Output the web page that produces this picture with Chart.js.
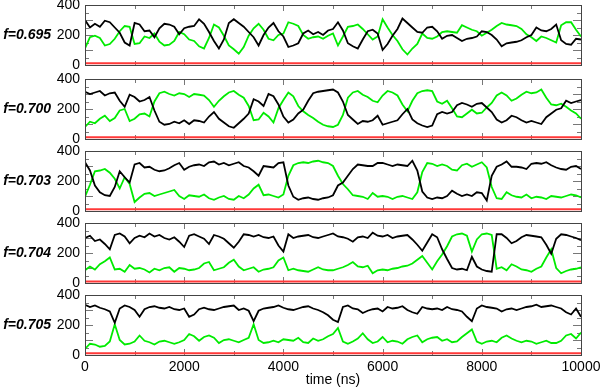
<!DOCTYPE html>
<html>
<head>
<meta charset="utf-8">
<script src="https://cdn.jsdelivr.net/npm/chart.js@4.4.1/dist/chart.umd.min.js"></script>
<style>
  html, body { margin: 0; padding: 0; background: #fff; }
  #wrap { position: relative; width: 602px; height: 391px; overflow: hidden; }
  #wrap canvas { position: absolute; left: 0; }
  .flabel { position: absolute; left: 0; width: 51px; text-align: right; line-height: 16px;
            font: italic bold 14px "Liberation Sans", Arial, sans-serif; color: #000; }
</style>
</head>
<body>
<div id="wrap"></div>
<script>
// time axis (ns), one sample every 100 ns
const times = [
  0, 100, 200, 300, 400, 500, 600, 700, 800, 900,
  1000, 1100, 1200, 1300, 1400, 1500, 1600, 1700, 1800, 1900,
  2000, 2100, 2200, 2300, 2400, 2500, 2600, 2700, 2800, 2900,
  3000, 3100, 3200, 3300, 3400, 3500, 3600, 3700, 3800, 3900,
  4000, 4100, 4200, 4300, 4400, 4500, 4600, 4700, 4800, 4900,
  5000, 5100, 5200, 5300, 5400, 5500, 5600, 5700, 5800, 5900,
  6000, 6100, 6200, 6300, 6400, 6500, 6600, 6700, 6800, 6900,
  7000, 7100, 7200, 7300, 7400, 7500, 7600, 7700, 7800, 7900,
  8000, 8100, 8200, 8300, 8400, 8500, 8600, 8700, 8800, 8900,
  9000, 9100, 9200, 9300, 9400, 9500, 9600, 9700, 9800, 9900,
  10000
];

const fLabels = ['f=0.695', 'f=0.700', 'f=0.703', 'f=0.704', 'f=0.705'];

const black695 = [
  300, 250, 275, 255, 295, 285, 250, 215, 150, 130,
  280, 270, 225, 230, 185, 245, 275, 270, 255, 205,
  245, 255, 260, 305, 275, 220, 160, 110, 170, 280,
  305, 280, 255, 220, 185, 130, 200, 250, 280, 225,
  190, 120, 130, 145, 210, 230, 205, 220, 200, 230,
  240, 285, 230, 145, 125, 110, 170, 225, 235, 210,
  100, 140, 195, 240, 310, 280, 250, 220, 215, 250,
  255, 225, 175, 195, 200, 180, 160, 175, 180, 190,
  225, 220, 200, 170, 125, 145, 150, 155, 165, 185,
  200, 250, 230, 225, 240, 270, 165, 140, 135, 175,
  170
];
const green695 = [
  110, 185, 195, 180, 130, 140, 175, 225, 260, 255,
  140, 145, 190, 180, 210, 155, 130, 135, 160, 220,
  205, 170, 160, 125, 110, 180, 270, 250, 195, 130,
  105, 75, 120, 195, 245, 275, 235, 175, 165, 200,
  210, 285, 275, 260, 200, 175, 185, 190, 175, 195,
  210, 130, 190, 255, 260, 270, 240, 205, 170, 190,
  305, 250, 200, 160, 105, 70, 110, 140, 210, 180,
  175, 190, 220, 225, 220, 215, 265, 250, 235, 225,
  195, 215, 235, 260, 280, 270, 265, 260, 240, 205,
  185, 160, 190, 180, 165, 150, 265, 285, 285, 235,
  190
];

const black700 = [
  315, 300, 310, 320, 290, 305, 310, 255, 215, 295,
  280, 250, 260, 280, 190, 115, 95, 100, 115, 105,
  125, 100, 125, 120, 110, 150, 180, 135, 110, 85,
  75, 105, 135, 170, 265, 250, 220, 300, 285, 230,
  150, 110, 130, 170, 195, 255, 305, 315, 320, 325,
  330, 310, 250, 160, 130, 100, 120, 115, 125, 155,
  95, 105, 115, 125, 165, 200, 130, 105, 90, 80,
  90, 165, 180, 170, 180, 225, 240, 230, 215, 235,
  240, 210, 180, 130, 110, 125, 155, 145, 125, 110,
  120, 110, 100, 145, 170, 195, 205, 255, 240, 250,
  260
];
const green700 = [
  80, 115, 105, 135, 155, 120, 140, 190, 200, 120,
  135, 165, 170, 150, 250, 305, 315, 300, 290, 305,
  300, 280, 300, 295, 290, 260, 215, 255, 285, 310,
  320, 295, 275, 220, 125, 130, 175, 150, 110, 205,
  260, 310, 285, 220, 185, 160, 140, 115, 95, 85,
  80, 95, 160, 275, 310, 320, 295, 280, 255, 245,
  290, 320, 310, 290, 230, 185, 255, 305, 320, 325,
  320, 250, 235, 255, 205, 150, 145, 170, 195, 170,
  175, 210, 240, 290, 310, 290, 255, 270, 295, 315,
  305, 310, 330, 275, 230, 225, 235, 215, 190, 170,
  135
];

const black703 = [
  325, 270, 170, 125, 105, 100, 160, 265, 225, 190,
  310, 320, 290, 295, 275, 265, 270, 285, 305, 320,
  275, 295, 305, 310, 300, 325, 330, 310, 320, 305,
  315, 325, 300, 290, 265, 235, 300, 295, 290, 320,
  325, 170, 95, 75, 85, 90, 80, 75, 85, 90,
  105, 170, 190, 235, 280, 310, 305, 300, 300, 320,
  320, 310, 300, 310, 305, 300, 335, 270, 130, 90,
  80, 90, 85, 100, 135, 115, 100, 110, 100, 125,
  120, 70, 235, 295, 310, 330, 295, 295, 290, 280,
  315, 320, 315, 325, 305, 290, 280, 275, 295, 300,
  280
];
const green703 = [
  95, 175, 265, 270, 280, 255, 215, 150, 225, 180,
  60, 90, 115, 120, 100, 110, 120, 130, 140, 100,
  80, 105, 100, 95, 110, 85, 75, 90, 100, 80,
  75, 100, 85, 110, 150, 175, 105, 110, 100, 90,
  110, 235, 305, 320, 325, 320, 330, 335, 325, 320,
  300, 235, 180, 145, 105, 100, 95, 80, 120, 95,
  100, 95, 80, 95, 100, 90, 80, 125, 260, 320,
  315, 300, 310, 300, 275, 270, 305, 315, 295, 310,
  325, 290, 160, 85, 80, 125, 105, 95, 90, 110,
  85, 95, 90, 80, 100, 95, 90, 100, 110, 105,
  90
];

const black704 = [
  300, 315, 280, 290, 260, 225, 320, 330, 310, 265,
  300, 315, 305, 330, 310, 320, 300, 290, 305, 275,
  240, 315, 325, 310, 295, 260, 320, 310, 295, 265,
  235, 275, 325, 320, 310, 320, 305, 300, 310, 250,
  210, 325, 300, 310, 315, 320, 305, 300, 310, 320,
  330, 310, 305, 295, 275, 305, 310, 300, 335, 315,
  310, 320, 300, 310, 315, 320, 290, 255, 215, 270,
  325, 305, 225, 160, 100, 90, 95, 85, 175, 110,
  90, 80, 75, 325, 325, 300, 265, 280, 305, 320,
  315, 310, 305, 255, 195, 295, 325, 320, 310, 300,
  285
];
const green704 = [
  85, 110, 90, 125, 145, 170, 90, 95, 75, 120,
  95, 100, 90, 70, 95, 85, 100, 105, 75, 100,
  95, 85, 90, 100, 130, 140, 85, 95, 105, 135,
  155, 110, 85, 95, 105, 75, 90, 95, 105, 150,
  170, 85, 95, 85, 80, 75, 90, 105, 90, 85,
  85, 95, 105, 120, 140, 110, 105, 115, 65, 85,
  90, 85, 95, 100, 110, 115, 130, 155, 180, 135,
  90, 145, 190, 245, 310, 325, 330, 315, 210, 290,
  325, 330, 320, 95, 105, 85, 125, 110, 90, 85,
  75, 95, 110, 170, 225, 100, 65, 80, 90, 95,
  105
];

const black705 = [
  335, 320, 330, 315, 305, 290, 215, 310, 330, 320,
  300, 255, 305, 320, 325, 315, 310, 320, 305, 300,
  310, 255, 270, 305, 315, 305, 300, 310, 320, 325,
  330, 300, 310, 295, 225, 295, 310, 315, 320, 330,
  315, 305, 300, 310, 320, 325, 310, 300, 285, 265,
  235, 220, 320, 330, 310, 305, 280, 295, 305, 310,
  290, 320, 310, 315, 325, 300, 285, 275, 320, 310,
  305, 310, 300, 320, 305, 300, 290, 255, 225, 310,
  330, 320, 315, 310, 290, 305, 310, 300, 310, 320,
  325, 335, 320, 325, 330, 320, 310, 285, 270, 310,
  255
];
const green705 = [
  40, 75, 70, 55, 60, 90, 205, 100, 70, 75,
  90, 130, 95, 85, 70, 90, 95, 85, 75, 85,
  100, 140, 125, 95, 120, 130, 115, 80, 100, 105,
  95, 85, 100, 115, 205, 100, 80, 85, 95, 85,
  105, 100, 95, 115, 85, 80, 110, 95, 105, 125,
  140, 180, 90, 75, 90, 110, 145, 105, 80, 90,
  120, 85, 95, 90, 75, 105, 120, 130, 85, 105,
  115, 120, 95, 105, 85, 90, 120, 145, 170, 90,
  75, 90, 95, 85, 115, 130, 110, 95, 85, 95,
  90, 75, 85, 95, 80, 80, 95, 130, 140, 110,
  150
];

// the flat red trace near the bottom of each panel
const redLevel = [12, 12, 12, 10, 12];

const blackSeries = [black695, black700, black703, black704, black705];
const greenSeries = [green695, green700, green703, green704, green705];

// layout of the five stacked panels (pixels)
const panelTops = [5, 79, 151, 223, 295];
const panelH = 60;
const pad = 16;
const axisH = 36;
const canvasW = 606;

Chart.defaults.font.family = '"Liberation Sans", Arial, Helvetica, sans-serif';
Chart.defaults.font.size = 14;
Chart.defaults.color = '#000';

const toXY = vals => vals.map((v, i) => ({ x: times[i], y: v }));

// frame + tick marks pointing into the plot, like the original
const innerTicks = {
  id: 'innerTicks',
  beforeDatasetsDraw(chart) {
    const { ctx, chartArea: a, scales: { x, y } } = chart;
    const L = Math.round(a.left), R = Math.round(a.right);
    const T = Math.round(a.top), B = Math.round(a.bottom);
    ctx.save();
    ctx.strokeStyle = '#777';
    ctx.lineWidth = 1;
    ctx.beginPath();
    for (let t = 1000; t < 10000; t += 1000) {
      const px = Math.round(x.getPixelForValue(t)) + 0.5;
      const len = t % 2000 === 0 ? 6 : 4;
      ctx.moveTo(px, T); ctx.lineTo(px, T + len);
      ctx.moveTo(px, B); ctx.lineTo(px, B - len);
    }
    for (let v = 50; v < 400; v += 50) {
      const py = Math.round(y.getPixelForValue(v)) + 0.5;
      const len = v % 100 === 0 ? 8 : 4;
      ctx.moveTo(L, py); ctx.lineTo(L + len, py);
      ctx.moveTo(R, py); ctx.lineTo(R - len, py);
    }
    ctx.stroke();
    ctx.restore();
  },
  afterDatasetsDraw(chart) {
    const { ctx, chartArea: a } = chart;
    const L = Math.round(a.left), R = Math.round(a.right);
    const T = Math.round(a.top), B = Math.round(a.bottom);
    ctx.save();
    ctx.strokeStyle = '#444';
    ctx.lineWidth = 1;
    ctx.strokeRect(L + 0.5, T + 0.5, R - L, B - T);
    ctx.restore();
  }
};

const wrap = document.getElementById('wrap');

blackSeries.forEach((blk, i) => {
  const last = i === blackSeries.length - 1;
  const h = pad + panelH + (last ? axisH : pad);
  const canvas = document.createElement('canvas');
  canvas.width = canvasW;
  canvas.height = h;
  canvas.style.width = canvasW + 'px';
  canvas.style.height = h + 'px';
  canvas.style.top = (panelTops[i] - pad) + 'px';
  wrap.appendChild(canvas);

  const lbl = document.createElement('div');
  lbl.className = 'flabel';
  lbl.textContent = fLabels[i];
  lbl.style.top = (panelTops[i] + 21) + 'px';
  wrap.appendChild(lbl);

  new Chart(canvas, {
    type: 'line',
    data: {
      datasets: [
        { data: toXY(blk), borderColor: '#000', borderWidth: 1.8 },
        { data: toXY(greenSeries[i]), borderColor: 'rgb(0,235,0)', borderWidth: 1.8 },
        { data: [{ x: times[0], y: redLevel[i] }, { x: times[times.length - 1], y: redLevel[i] }],
          borderColor: '#ff3838', borderWidth: 2 }
      ]
    },
    options: {
      responsive: false,
      animation: false,
      devicePixelRatio: 1,
      layout: { padding: { left: 0, right: canvasW - 581, top: pad, bottom: last ? 0 : pad } },
      plugins: { legend: { display: false }, tooltip: { enabled: false } },
      elements: { point: { radius: 0 }, line: { tension: 0 } },
      scales: {
        x: {
          type: 'linear', min: 0, max: 10000, display: last,
          grid: { display: false, drawTicks: false },
          border: { display: false },
          ticks: { stepSize: 2000, padding: 4, maxRotation: 0, callback: v => String(v) },
          title: { display: true, text: 'time (ns)', padding: { top: 0, bottom: 2 } },
          afterFit: s => { if (last) s.height = axisH; }
        },
        y: {
          min: 0, max: 400,
          grid: { display: false, drawTicks: false },
          border: { display: false },
          ticks: { stepSize: 100, padding: 5 },
          afterFit: s => { s.width = 85; }
        }
      }
    },
    plugins: [innerTicks]
  });
});
</script>
</body>
</html>
